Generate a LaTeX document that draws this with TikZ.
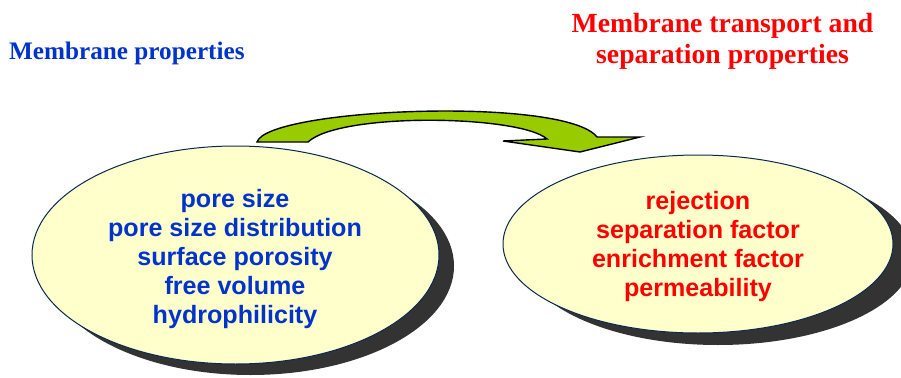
\documentclass[tikz,border=0pt]{standalone}
\usepackage{fontspec}
\setmainfont{Liberation Serif}
\setsansfont{Liberation Sans}
\usetikzlibrary{shapes.geometric,shadows}
\definecolor{tblue}{HTML}{0033CC}
\definecolor{tred}{HTML}{FF0000}
\definecolor{efill}{HTML}{FFFFCC}
\definecolor{eline}{HTML}{0A2850}
\definecolor{sgray}{HTML}{333333}
\definecolor{agreen}{HTML}{99CC00}
\begin{document}
\begin{tikzpicture}[x=1pt,y=-1pt,
  ell/.style={ellipse, draw=eline, line width=1pt, fill=efill, inner sep=0pt, outer sep=0pt},
  etext/.style={anchor=base, inner sep=0pt, font=\sffamily\bfseries\fontsize{25.1}{29}\selectfont},
  title/.style={inner sep=0pt, font=\rmfamily\bfseries},
  arrowshape/.style={fill=agreen, draw=black, line width=1.4pt, line join=miter}]
\useasboundingbox (0,0) rectangle (901,377);
% ellipses with shadows
\node[ell, minimum width=407pt, minimum height=218pt,
  general shadow={fill=sgray, shadow xshift=15pt, shadow yshift=-11pt}] (L) at (235.5,255) {};
\node[ell, minimum width=390pt, minimum height=178pt,
  general shadow={fill=sgray, shadow xshift=20pt, shadow yshift=-12pt}] (R) at (698,244) {};
% left texts
\begin{scope}[every node/.style={etext, text=tblue}]
\node (l1) at (235,207) {pore size};
\node (l2) at (235,236) {pore size distribution};
\node (l3) at (235,265) {surface porosity};
\node (l4) at (235,294) {free volume};
\node (l5) at (235,323) {hydrophilicity};
\end{scope}
\begin{scope}[every node/.style={etext, text=tred}]
\node (r1) at (698,209) {rejection};
\node (r2) at (698,238) {separation factor};
\node (r3) at (698,267) {enrichment factor};
\node (r4) at (698,296) {permeability};
\end{scope}
% titles
\node[title, text=tblue, anchor=base west, font=\rmfamily\bfseries\fontsize{25.2}{29}\selectfont] (t1) at (9,60) {Membrane properties};
\node[title, text=tred, anchor=base, font=\rmfamily\bfseries\fontsize{27.7}{31}\selectfont] (t2) at (722.5,33) {Membrane transport and};
\node[title, text=tred, anchor=base, font=\rmfamily\bfseries\fontsize{27.7}{31}\selectfont] (t3) at (722.5,64) {separation properties};
% curved block arrow
\draw[arrowshape] (257,142) .. controls (268,108) and (565,96) .. (597,137)
  -- (640,137) -- (580,152) -- (503,141) -- (547,139)
  .. controls (520,115) and (340,112) .. (308,142) -- cycle;
\end{tikzpicture}
\end{document}
